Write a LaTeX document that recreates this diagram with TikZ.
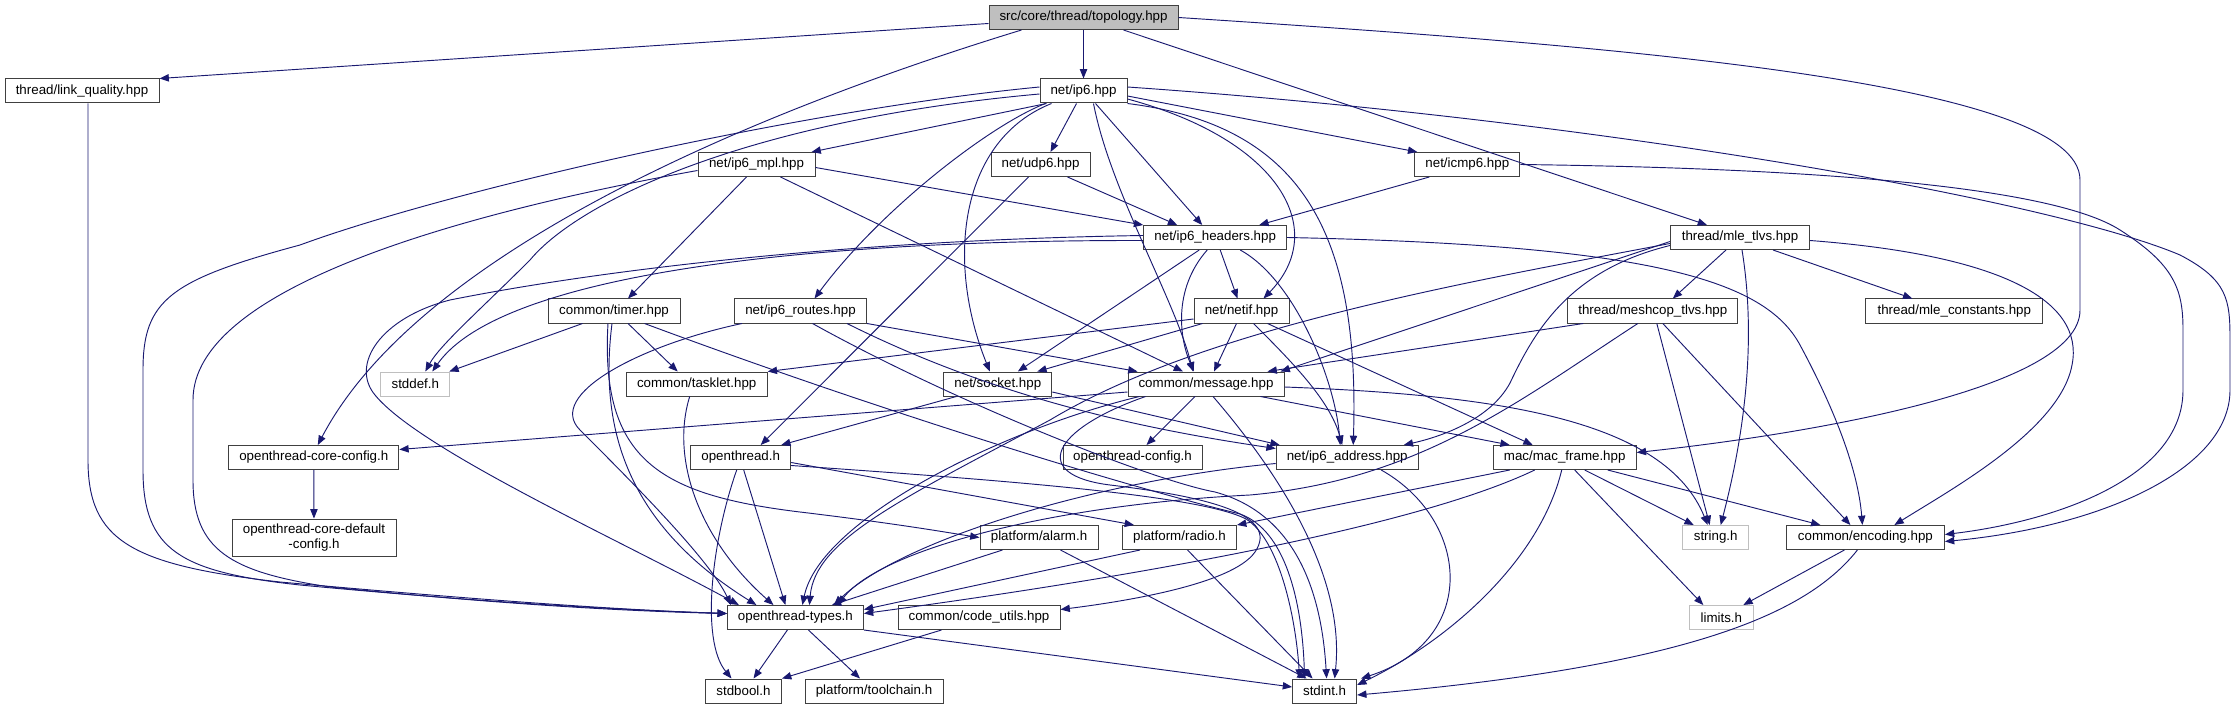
\documentclass[tikz,border=0pt]{standalone}
\usepackage{fontspec}
\setmainfont{Liberation Sans}
\usetikzlibrary{arrows.meta,calc}
\definecolor{edgec}{HTML}{191970}
\definecolor{boxc}{HTML}{404040}
\definecolor{sysc}{HTML}{BFBFBF}
\tikzset{
 nd/.style={draw=boxc, line width=0.75pt, fill=white, inner sep=0pt, minimum height=18pt, font=\fontsize{10}{12}\selectfont},
 rootnd/.style={nd, fill=sysc},
 sysnd/.style={nd, draw=sysc},
 bw/.style={minimum width=#1*0.75pt},
 e/.style={draw=edgec, line width=0.7pt, -{Triangle[length=7pt,width=5.5pt]}},
}
\begin{document}
\begin{tikzpicture}[x=0.75pt,y=-0.75pt]
\useasboundingbox (0,0) rectangle (2234,709);
% nodes
\node[rootnd,bw=189] (topo) at (1083.5,17.5) {src/core/thread/topology.hpp};
\node[nd,bw=154] (lq) at (82,91) {thread/link\_quality.hpp};
\node[nd,bw=87] (ip6) at (1083.5,91) {net/ip6.hpp};
\node[nd,bw=117] (mpl) at (756.5,164.5) {net/ip6\_mpl.hpp};
\node[nd,bw=99] (udp6) at (1040.5,164.5) {net/udp6.hpp};
\node[nd,bw=105] (icmp6) at (1467.3,164.5) {net/icmp6.hpp};
\node[nd,bw=143] (hdr) at (1215.2,237.5) {net/ip6\_headers.hpp};
\node[nd,bw=139] (mletlv) at (1740,237.5) {thread/mle\_tlvs.hpp};
\node[nd,bw=132] (timer) at (614,311) {common/timer.hpp};
\node[nd,bw=132] (routes) at (800.5,311) {net/ip6\_routes.hpp};
\node[nd,bw=95] (netif) at (1241.5,311) {net/netif.hpp};
\node[nd,bw=170] (meshcop) at (1652.8,311) {thread/meshcop\_tlvs.hpp};
\node[nd,bw=177] (mlec) at (1954.3,311) {thread/mle\_constants.hpp};
\node[sysnd,bw=69] (stddef) at (415.3,384) {stddef.h};
\node[nd,bw=141] (tasklet) at (696.7,384) {common/tasklet.hpp};
\node[nd,bw=108] (socket) at (997.8,384) {net/socket.hpp};
\node[nd,bw=156] (msg) at (1206,384) {common/message.hpp};
\node[nd,bw=170] (corecfg) at (313.8,457.5) {openthread-core-config.h};
\node[nd,bw=100] (ot) at (740.7,457.5) {openthread.h};
\node[nd,bw=139] (otcfg) at (1132.5,457.5) {openthread-config.h};
\node[nd,bw=142] (addr) at (1347.2,457.5) {net/ip6\_address.hpp};
\node[nd,bw=143] (mac) at (1564.7,457.5) {mac/mac\_frame.hpp};
\node[nd,bw=164,minimum height=28pt,align=center,font=\fontsize{10}{11.5}\selectfont] (coredef) at (314,537.7) {openthread-core-default\\-config.h};
\node[nd,bw=118] (alarm) at (1039,537.5) {platform/alarm.h};
\node[nd,bw=114] (radio) at (1179.5,537.5) {platform/radio.h};
\node[sysnd,bw=66] (string) at (1715.7,537.5) {string.h};
\node[nd,bw=158] (enc) at (1865.4,537.5) {common/encoding.hpp};
\node[nd,bw=136] (types) at (795.4,617.5) {openthread-types.h};
\node[nd,bw=162] (cu) at (979,617.5) {common/code\_utils.hpp};
\node[sysnd,bw=64] (limits) at (1721.3,617.5) {limits.h};
\node[nd,bw=76] (stdbool) at (743.5,691) {stdbool.h};
\node[nd,bw=138] (toolchain) at (874,691) {platform/toolchain.h};
\node[nd,bw=64] (stdint) at (1324.6,691) {stdint.h};
% edges: topology
\draw[e] ($(topo.west)+(0,6)$) -- (lq.north east);
\draw[e] (topo) -- (ip6);
\draw[e] ($(topo.south)+(-62,0)$) .. controls (760,110) and (420,250) .. ($(corecfg.north)+(4,0)$);
\draw[e] ($(topo.south)+(40,0)$) -- ($(mletlv.north)+(-33,0)$);
\draw[e] (topo.east) .. controls (1600,45) and (2080,80) .. (2080,180) -- (2080,310) .. controls (2080,390) and (1800,435) .. ($(mac.east)+(0,-5)$);
% link quality
\draw[e] ($(lq.south)+(6,0)$) -- (88,460) .. controls (88,540) and (130,565) .. (280,582) .. controls (480,600) and (620,610) .. ($(types.west)+(0,-4)$);
% ip6
\draw[e] ($(ip6.west)+(0,-4)$) .. controls (800,110) and (450,190) .. (300,245) .. controls (170,280) and (143,300) .. (143,370) -- (143,470) .. controls (143,550) and (180,572) .. (300,585) .. controls (480,602) and (620,610) .. ($(types.west)+(0,-4)$);
\draw[e] ($(ip6.west)+(0,3)$) .. controls (750,120) and (580,200) .. (530,260) .. controls (480,310) and (440,345) .. ($(stddef.north)+(10,0)$);
\draw[e] ($(ip6.south)+(-37,0)$) -- ($(mpl.north)+(55,0)$);
\draw[e] ($(ip6.south)+(-7,0)$) -- ($(udp6.north)+(10,0)$);
\draw[e] ($(ip6.east)+(0,5)$) -- ($(icmp6.north west)+(3,0)$);
\draw[e] ($(ip6.south)+(12,0)$) -- ($(hdr.north)+(-13,0)$);
\draw[e] ($(ip6.south west)+(6,0)$) .. controls (990,125) and (880,210) .. ($(routes.north)+(14,0)$);
\draw[e] ($(ip6.south west)+(12,0)$) .. controls (960,140) and (945,260) .. ($(socket.north)+(-8,0)$);
\draw[e] ($(ip6.south)+(10,0)$) .. controls (1110,190) and (1175,300) .. ($(msg.north)+(-13,0)$);
\draw[e] ($(ip6.east)+(0,8)$) .. controls (1280,140) and (1330,230) .. ($(netif.north)+(22,0)$);
\draw[e] (ip6.south east) .. controls (1300,125) and (1360,230) .. ($(addr.north)+(6,0)$);
\draw[e] ($(ip6.east)+(0,-4)$) .. controls (1600,120) and (2050,200) .. (2180,255) .. controls (2228,280) and (2230,300) .. (2230,340) -- (2230,390) .. controls (2230,470) and (2100,527) .. ($(enc.east)+(0,4)$);
% mpl, udp6, icmp6
\draw[e] ($(mpl.west)+(0,6)$) .. controls (450,215) and (193,290) .. (193,400) -- (193,480) .. controls (193,550) and (230,572) .. (330,587) .. controls (500,604) and (620,611) .. ($(types.west)+(0,-4)$);
\draw[e] ($(mpl.east)+(0,3)$) -- (hdr.north west);
\draw[e] ($(mpl.south)+(-10,0)$) -- ($(timer.north)+(14,0)$);
\draw[e] ($(mpl.south)+(24,0)$) -- ($(msg.north)+(-23,0)$);
\draw[e] ($(udp6.south)+(27,0)$) -- ($(hdr.north)+(-38,0)$);
\draw[e] ($(udp6.south)+(-12,0)$) -- ($(ot.north)+(20,0)$);
\draw[e] ($(icmp6.south)+(-38,0)$) -- ($(hdr.north)+(44,0)$);
\draw[e] (icmp6.east) .. controls (1800,168) and (2050,185) .. (2120,230) .. controls (2175,265) and (2183,290) .. (2183,330) -- (2183,390) .. controls (2183,480) and (2050,522) .. ($(enc.east)+(0,-3)$);
% headers
\draw[e] ($(hdr.west)+(0,3)$) .. controls (800,240) and (500,275) .. ($(stddef.north)+(17,0)$);
\draw[e] ($(hdr.west)+(0,-2)$) .. controls (850,240) and (600,270) .. (450,300) .. controls (380,318) and (350,365) .. (375,395) .. controls (420,450) and (620,540) .. ($(types.north west)+(12,0)$);
\draw[e] ($(hdr.south)+(5,0)$) -- ($(netif.north)+(-4,0)$);
\draw[e] ($(hdr.south)+(-16,0)$) -- ($(socket.north)+(20,0)$);
\draw[e] ($(hdr.south)+(-8,0)$) .. controls (1172,290) and (1180,340) .. ($(msg.north)+(-12,0)$);
\draw[e] ($(hdr.south)+(25,0)$) .. controls (1295,280) and (1335,380) .. ($(addr.north)+(-7,0)$);
\draw[e] (hdr.east) .. controls (1650,245) and (1765,280) .. (1800,345) .. controls (1835,410) and (1858,470) .. ($(enc.north)+(-3,0)$);
% mle tlvs
\draw[e] ($(mletlv.south)+(-14,0)$) -- ($(meshcop.north)+(20,0)$);
\draw[e] ($(mletlv.south)+(33,0)$) -- ($(mlec.north)+(-42,0)$);
\draw[e] ($(mletlv.south)+(2,0)$) .. controls (1755,330) and (1748,420) .. ($(string.north)+(5,0)$);
\draw[e] ($(mletlv.east)+(0,3)$) .. controls (2000,255) and (2085,300) .. (2072,365) .. controls (2060,430) and (1950,490) .. ($(enc.north)+(29,0)$);
\draw[e] ($(mletlv.west)+(0,8)$) .. controls (1570,270) and (1535,330) .. (1510,383) .. controls (1490,420) and (1440,437) .. ($(addr.north east)+(-15,0)$);
\draw[e] ($(mletlv.west)+(0,4)$) -- ($(msg.north east)+(-4,0)$);
\draw[e] ($(mletlv.west)+(0,6)$) .. controls (1450,285) and (1200,330) .. (1050,420) .. controls (900,500) and (815,540) .. ($(types.north)+(14,0)$);
% meshcop
\draw[e] ($(meshcop.south west)+(16,0)$) -- ($(msg.north east)+(-17,0)$);
\draw[e] ($(meshcop.south)+(-15,0)$) .. controls (1520,400) and (1420,480) .. (1250,495) .. controls (1050,505) and (880,550) .. ($(types.north east)+(-26,0)$);
\draw[e] ($(meshcop.south)+(4,0)$) -- ($(string.north)+(-6,0)$);
\draw[e] ($(meshcop.south)+(10,0)$) -- ($(enc.north)+(-15,0)$);
% routes
\draw[e] ($(routes.south west)+(8,0)$) .. controls (640,345) and (545,395) .. (580,430) .. controls (630,480) and (710,560) .. ($(types.north west)+(4,0)$);
\draw[e] (routes.south east) -- ($(msg.north west)+(10,0)$);
\draw[e] ($(routes.south)+(12,0)$) .. controls (950,400) and (1150,480) .. (1215,492) .. controls (1300,515) and (1322,600) .. ($(stdint.north)+(2,0)$);
\draw[e] ($(routes.south east)+(-20,0)$) .. controls (1000,400) and (1150,430) .. ($(addr.west)+(0,-9)$);
% timer, tasklet, socket
\draw[e] ($(timer.south west)+(35,0)$) -- ($(stddef.north east)+(-1,0)$);
\draw[e] ($(timer.south)+(14,0)$) -- ($(tasklet.north)+(-19,0)$);
\draw[e] ($(timer.south)+(-2,0)$) .. controls (600,420) and (620,520) .. ($(types.north)+(-39,0)$);
\draw[e] ($(timer.south)+(-6,0)$) .. controls (600,460) and (660,495) .. (800,512) .. controls (900,524) and (950,533) .. (alarm.west);
\draw[e] ($(timer.south east)+(-36,0)$) .. controls (850,400) and (1100,480) .. (1240,514) .. controls (1285,530) and (1302,600) .. ($(stdint.north)+(-20,0)$);
\draw[e] ($(tasklet.south)+(-7,0)$) .. controls (670,460) and (700,540) .. ($(types.north)+(-22,0)$);
\draw[e] ($(socket.south west)+(13,0)$) -- ($(ot.north east)+(-10,0)$);
\draw[e] ($(socket.east)+(0,8)$) -- ($(addr.north west)+(4,0)$);
% openthread.h
\draw[e] ($(ot.south)+(3,0)$) -- ($(types.north)+(-10,0)$);
\draw[e] ($(ot.south)+(-4,0)$) .. controls (712,540) and (700,640) .. ($(stdbool.north)+(-12,0)$);
\draw[e] ($(ot.east)+(0,5)$) -- ($(radio.north west)+(12,0)$);
\draw[e] ($(ot.east)+(0,8)$) .. controls (1000,480) and (1200,495) .. (1246,519) .. controls (1280,540) and (1296,620) .. ($(stdint.north)+(-25,0)$);
% alarm, radio
\draw[e] ($(alarm.south west)+(23,0)$) -- ($(types.north east)+(-32,0)$);
\draw[e] ($(alarm.south east)+(-38,0)$) -- ($(stdint.north)+(-18,0)$);
\draw[e] ($(radio.south west)+(18,0)$) -- ($(types.east)+(0,-8)$);
\draw[e] ($(radio.south)+(8,0)$) -- ($(stdint.north)+(-12,0)$);
% mac frame
\draw[e] ($(mac.south west)+(17,0)$) -- (radio.north east);
\draw[e] ($(mac.south west)+(42,0)$) .. controls (1420,525) and (1150,575) .. ($(types.east)+(0,-4)$);
\draw[e] ($(mac.south)+(-3,0)$) .. controls (1540,560) and (1450,640) .. ($(stdint.east)+(0,-6)$);
\draw[e] ($(mac.south)+(10,0)$) -- ($(limits.north)+(-18,0)$);
\draw[e] ($(mac.south)+(20,0)$) -- ($(string.north)+(-22,0)$);
\draw[e] ($(mac.south east)+(-29,0)$) -- ($(enc.north)+(-45,0)$);
% message
\draw[e] ($(msg.east)+(0,3)$) .. controls (1500,395) and (1665,420) .. ($(string.north)+(-8,0)$);
\draw[e] ($(msg.south east)+(-24,0)$) -- ($(mac.north west)+(17,0)$);
\draw[e] ($(msg.south)+(-11,0)$) -- ($(otcfg.north)+(14,0)$);
\draw[e] ($(msg.south)+(7,0)$) .. controls (1285,480) and (1345,580) .. ($(stdint.north)+(10,0)$);
\draw[e] ($(msg.south west)+(12,0)$) .. controls (1000,430) and (820,520) .. ($(types.north)+(7,0)$);
\draw[e] ($(msg.south west)+(18,0)$) .. controls (1050,430) and (1030,475) .. (1110,485) .. controls (1210,497) and (1280,515) .. (1255,552) .. controls (1232,585) and (1120,602) .. ($(cu.east)+(0,-8)$);
\draw[e] ($(msg.west)+(0,8)$) -- ($(corecfg.east)+(0,-8)$);
% netif
\draw[e] ($(netif.south)+(-5,0)$) -- ($(msg.north)+(8,0)$);
\draw[e] ($(netif.south)+(12,0)$) .. controls (1290,360) and (1330,400) .. ($(addr.north)+(-5,0)$);
\draw[e] ($(netif.south east)+(-22,0)$) -- ($(mac.north west)+(40,0)$);
\draw[e] ($(netif.west)+(0,8)$) -- (tasklet.north east);
\draw[e] ($(netif.south west)+(9,0)$) -- ($(socket.north east)+(-15,0)$);
% ip6 address
\draw[e] ($(addr.west)+(0,6)$) .. controls (1100,480) and (900,540) .. ($(types.north east)+(-30,0)$);
\draw[e] ($(addr.south)+(34,0)$) .. controls (1470,520) and (1480,640) .. ($(stdint.north east)+(4,0)$);
% types, code utils, encoding, config
\draw[e] ($(types.south)+(-8,0)$) -- ($(stdbool.north)+(10,0)$);
\draw[e] ($(types.south)+(13,0)$) -- ($(toolchain.north)+(-14,0)$);
\draw[e] (types.south east) -- ($(stdint.west)+(0,-4)$);
\draw[e] ($(cu.south west)+(44,0)$) -- (stdbool.north east);
\draw[e] ($(enc.south)+(-21,0)$) -- ($(limits.north)+(22,0)$);
\draw[e] ($(enc.south)+(-8,0)$) .. controls (1810,610) and (1700,665) .. ($(stdint.east)+(0,4)$);
\draw[e] (corecfg) -- (coredef);
\end{tikzpicture}
\end{document}
